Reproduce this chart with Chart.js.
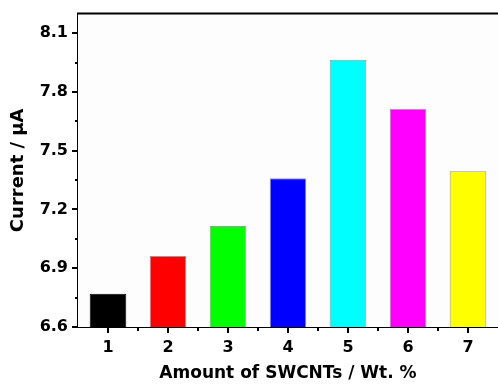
<!DOCTYPE html>
<html>
<head>
<meta charset="utf-8">
<script src="https://cdn.jsdelivr.net/npm/chart.js@4/dist/chart.umd.min.js"></script>
<style>
  html,body{margin:0;padding:0;background:#fff;}
  #wrap{width:498px;height:384px;}
</style>
</head>
<body>
<div id="wrap"><canvas id="c" width="498" height="384"></canvas></div>
<script>
const categories = ['1','2','3','4','5','6','7'];
const currentValues = [6.77, 6.962, 7.115, 7.359, 7.964, 7.714, 7.395];
const barColors = ['#000000','#ff0000','#00ff00','#0000ff','#00ffff','#ff00ff','#ffff00'];
const yTicks = [6.6, 6.9, 7.2, 7.5, 7.8, 8.1];
const yMinorTicks = [6.75, 7.05, 7.35, 7.65, 7.95];
const yMin = 6.6, yMax = 8.2;

const FONT = "'DejaVu Sans', sans-serif";

const axisDecor = {
  id: 'axisDecor',
  beforeDatasetsDraw(chart) {
    const ctx = chart.ctx, a = chart.chartArea;
    ctx.save();
    ctx.fillStyle = '#fdfdfd';
    ctx.fillRect(a.left, a.top, a.right - a.left, a.bottom - a.top);
    ctx.restore();
  },
  afterDraw(chart) {
    const ctx = chart.ctx, a = chart.chartArea;
    const xs = chart.scales.x, ys = chart.scales.y;
    ctx.save();
    ctx.strokeStyle = '#000';
    ctx.lineWidth = 2;
    ctx.beginPath();
    ctx.moveTo(a.left - 1, a.top);
    ctx.lineTo(a.right, a.top);
    ctx.stroke();
    yMinorTicks.forEach(v => {
      const y = Math.round(ys.getPixelForValue(v));
      ctx.beginPath();
      ctx.moveTo(a.left - 3, y);
      ctx.lineTo(a.left, y);
      ctx.stroke();
    });
    for (let i = 0; i < categories.length - 1; i++) {
      const x = Math.round((xs.getPixelForValue(i) + xs.getPixelForValue(i + 1)) / 2);
      ctx.beginPath();
      ctx.moveTo(x, a.bottom);
      ctx.lineTo(x, a.bottom + 4);
      ctx.stroke();
    }
    ctx.restore();
  }
};

new Chart(document.getElementById('c'), {
  type: 'bar',
  data: {
    labels: categories,
    datasets: [{
      data: currentValues,
      backgroundColor: barColors,
      borderColor: ['#000000','#999999','#999999','#999999','#999999','#999999','#999999'],
      borderWidth: 1,
      borderSkipped: 'bottom',
      barPercentage: 0.61,
      categoryPercentage: 1.0
    }]
  },
  options: {
    responsive: false,
    animation: false,
    devicePixelRatio: 1,
    layout: { padding: { top: 12, right: 0, left: 0, bottom: 0 } },
    plugins: { legend: { display: false }, tooltip: { enabled: false } },
    scales: {
      x: {
        offset: true,
        grid: { display: true, drawOnChartArea: false, drawTicks: true, tickLength: 6, color: '#000', lineWidth: 2, offset: false },
        border: { display: true, color: '#000', width: 2 },
        ticks: { color: '#000', font: { family: FONT, size: 16, weight: 'bold' }, padding: 5, maxRotation: 0 },
        title: { display: true, text: 'Amount of SWCNTs / Wt. %', color: '#000', font: { family: FONT, size: 17, weight: 'bold' }, padding: { top: 4, bottom: 0 } },
        afterFit(s) { s.height = 57; }
      },
      y: {
        min: yMin,
        max: yMax,
        afterBuildTicks(s) { s.ticks = yTicks.map(v => ({ value: v })); },
        grid: { display: true, drawOnChartArea: false, drawTicks: true, tickLength: 6, color: '#000', lineWidth: 2 },
        border: { display: true, color: '#000', width: 2 },
        ticks: { color: '#000', font: { family: FONT, size: 16, weight: 'bold' }, padding: 4, callback: v => Number(v).toFixed(1) },
        title: { display: true, text: 'Current / μA', color: '#000', font: { family: FONT, size: 18, weight: 'bold' }, padding: { top: 8, bottom: 4 } },
        afterFit(s) { s.width = 78; }
      }
    }
  },
  plugins: [axisDecor]
});
</script>
</body>
</html>
